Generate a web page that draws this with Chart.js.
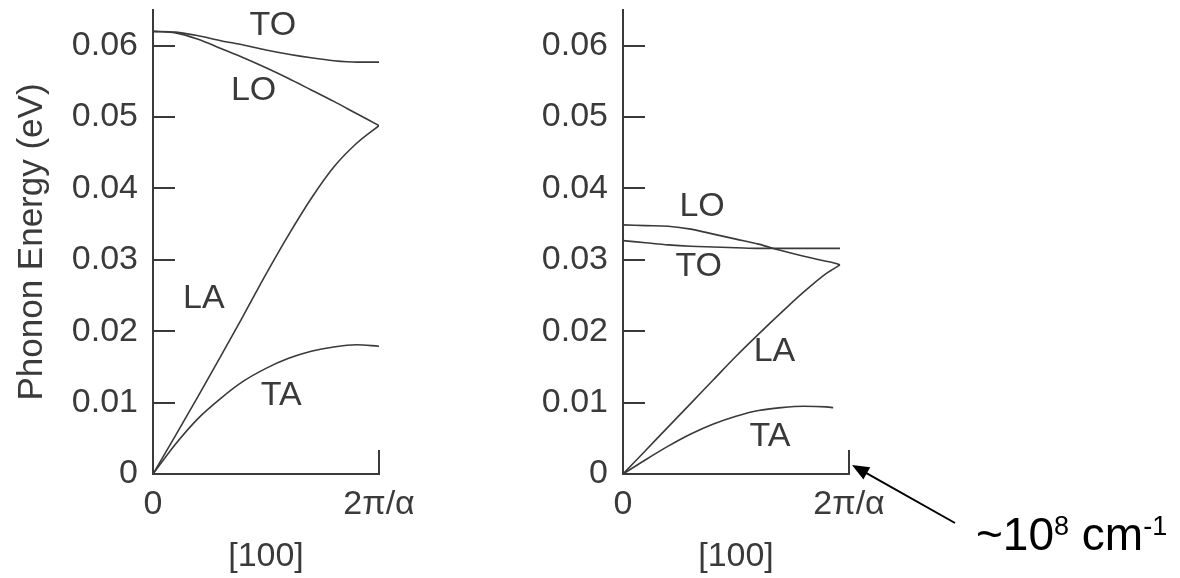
<!DOCTYPE html>
<html>
<head>
<meta charset="utf-8">
<script src="https://cdn.jsdelivr.net/npm/chart.js@4.4.0/dist/chart.umd.min.js"></script>
<style>
  html, body { margin: 0; padding: 0; background: #fff; }
  #wrap { position: relative; width: 1180px; height: 578px; overflow: hidden; }
  #wrap canvas { position: absolute; top: 0; }
</style>
</head>
<body>
<div id="wrap">
  <canvas id="leftChart" width="440" height="578" style="left:0px"></canvas>
  <canvas id="rightChart" width="710" height="578" style="left:470px"></canvas>
</div>
<script>
// wave vector along [100], as a fraction of 2π/α
const qLeft  = [0, 0.1, 0.2, 0.3, 0.4, 0.5, 0.6, 0.7, 0.8, 0.9, 1.0];
const toLeft = [0.0620, 0.0619, 0.0614, 0.0607, 0.0601, 0.0594, 0.0588, 0.0583, 0.0579, 0.0577, 0.0577];
const loLeft = [0.0620, 0.0618, 0.0609, 0.0596, 0.0583, 0.0569, 0.0554, 0.0538, 0.0522, 0.0505, 0.0488];
const laLeft = [0, 0.0054, 0.0109, 0.0165, 0.0222, 0.0280, 0.0335, 0.0386, 0.0430, 0.0463, 0.0488];
const taLeft = [0, 0.0042, 0.0078, 0.0106, 0.0130, 0.0148, 0.0162, 0.0172, 0.0178, 0.0181, 0.0179];

const qRight  = [0, 0.1, 0.2, 0.3, 0.4, 0.5, 0.6, 0.7, 0.8, 0.9, 0.93, 0.96];
const loRight = [0.0349, 0.0348, 0.0347, 0.0343, 0.0336, 0.0329, 0.0322, 0.0313, 0.0305, 0.0298, 0.0296, 0.0293];
const toRight = [0.0327, 0.0324, 0.0321, 0.0319, 0.0318, 0.0317, 0.0316, 0.0316, 0.0316, 0.0316, 0.0316, 0.0316];
const laRight = [0, 0.0033, 0.0066, 0.0099, 0.0132, 0.0165, 0.0196, 0.0226, 0.0255, 0.0281, 0.0287, 0.0293];
const taRight = [0, 0.0020, 0.0039, 0.0056, 0.0070, 0.0081, 0.0089, 0.0093, 0.0095, 0.0094, 0.0093, null];

const energyTicks = [0, 0.01, 0.02, 0.03, 0.04, 0.05, 0.06];
const qTicks = [0, 1];
const qTickLabels = ['0', '2π/α'];

// branch names, placed in data units
const leftNames = [
  { text: 'TO', q: 0.53, e: 0.0628 },
  { text: 'LO', q: 0.445, e: 0.0537 },
  { text: 'LA', q: 0.225, e: 0.0246 },
  { text: 'TA', q: 0.567, e: 0.0110 }
];
const rightNames = [
  { text: 'LO', q: 0.35, e: 0.0375 },
  { text: 'TO', q: 0.335, e: 0.0290 },
  { text: 'LA', q: 0.67, e: 0.0171 },
  { text: 'TA', q: 0.65, e: 0.0053 }
];

const INK = '#3a3a3a';
const FONT = '"Liberation Sans", Arial, Helvetica, sans-serif';

function points(q, e) {
  return q.map((v, i) => ({ x: v, y: e[i] })).filter(p => p.y !== null);
}

function branch(data) {
  return {
    data: data,
    borderColor: INK,
    borderWidth: 1.6,
    pointRadius: 0,
    fill: false,
    cubicInterpolationMode: 'monotone'
  };
}

// ticks drawn inward + branch names
const innerTicks = {
  id: 'innerTicks',
  afterDraw(chart, args, opts) {
    const { ctx, chartArea, scales: { x, y } } = chart;
    ctx.save();
    ctx.strokeStyle = INK;
    ctx.lineWidth = 2;
    ctx.beginPath();
    y.ticks.forEach(t => {
      if (t.value === 0) return;
      const py = Math.round(y.getPixelForValue(t.value));
      ctx.moveTo(chartArea.left, py);
      ctx.lineTo(chartArea.left + 22, py);
    });
    const px = Math.round(x.getPixelForValue(1));
    ctx.moveTo(px, chartArea.bottom);
    ctx.lineTo(px, chartArea.bottom - 24);
    ctx.stroke();

    ctx.fillStyle = INK;
    ctx.font = '34px ' + FONT;
    ctx.textAlign = 'center';
    ctx.textBaseline = 'middle';
    (opts.items || []).forEach(n => {
      ctx.fillText(n.text, x.getPixelForValue(n.q), y.getPixelForValue(n.e));
    });
    ctx.restore();
  }
};

// arrow + "~10^8 cm^-1" note pointing at the zone edge
const zoneNote = {
  id: 'zoneNote',
  afterDraw(chart) {
    const { ctx, chartArea, scales: { x, y } } = chart;
    const tipX = x.getPixelForValue(1) + 3;
    const tipY = y.getPixelForValue(0) - 9;
    const tailX = tipX + 103, tailY = tipY + 58;
    ctx.save();
    ctx.strokeStyle = '#000';
    ctx.fillStyle = '#000';
    ctx.lineWidth = 2;
    ctx.beginPath();
    ctx.moveTo(tailX, tailY);
    ctx.lineTo(tipX + 10, tipY + 5.6);
    ctx.stroke();
    const ang = Math.atan2(tipY - tailY, tipX - tailX);
    const L = 17, W = 7;
    ctx.beginPath();
    ctx.moveTo(tipX, tipY);
    ctx.lineTo(tipX - L * Math.cos(ang) + W * Math.sin(ang), tipY - L * Math.sin(ang) - W * Math.cos(ang));
    ctx.lineTo(tipX - L * Math.cos(ang) - W * Math.sin(ang), tipY - L * Math.sin(ang) + W * Math.cos(ang));
    ctx.closePath();
    ctx.fill();

    let tx = x.getPixelForValue(1) + 127;
    const base = chartArea.bottom + 76;
    ctx.textAlign = 'left';
    ctx.textBaseline = 'alphabetic';
    const big = '46px ' + FONT, small = '27px ' + FONT;
    const parts = [['~10', big, 0], ['8', small, -15], [' cm', big, 0], ['-1', small, -15]];
    parts.forEach(([s, f, dy]) => {
      ctx.font = f;
      ctx.fillText(s, tx, base + dy);
      tx += ctx.measureText(s).width;
    });
    ctx.restore();
  }
};

function makeChart(id, datasets, names, rightPad, withTitle, extra) {
  return new Chart(document.getElementById(id), {
    type: 'line',
    data: { datasets: datasets },
    plugins: [innerTicks].concat(extra),
    options: {
      responsive: false,
      animation: false,
      devicePixelRatio: 1,
      layout: { padding: { top: 10, right: rightPad, left: 0, bottom: 0 } },
      plugins: {
        legend: { display: false },
        tooltip: { enabled: false },
        innerTicks: { items: names }
      },
      scales: {
        x: {
          type: 'linear',
          min: 0,
          max: 1,
          afterBuildTicks: s => { s.ticks = qTicks.map(v => ({ value: v })); },
          afterFit: s => { s.height = 104; s.paddingLeft = 0; s.paddingRight = 0; },
          grid: { display: false, drawTicks: false },
          border: { display: true, color: INK, width: 2 },
          ticks: {
            color: INK,
            font: { family: FONT, size: 34 },
            padding: 10,
            maxRotation: 0,
            callback: (v) => qTickLabels[qTicks.indexOf(v)]
          },
          title: {
            display: true,
            text: '[100]',
            color: INK,
            font: { family: FONT, size: 34 },
            padding: { top: 0, bottom: 1 }
          }
        },
        y: {
          min: 0,
          max: 0.065,
          afterBuildTicks: s => { s.ticks = energyTicks.map(v => ({ value: v })); },
          afterFit: s => { s.width = 153; s.paddingTop = 0; s.paddingBottom = 0; },
          grid: { display: false, drawTicks: false },
          border: { display: true, color: INK, width: 2 },
          ticks: {
            color: INK,
            font: { family: FONT, size: 34 },
            padding: 15,
            callback: (v) => v === 0 ? '0' : v.toFixed(2)
          },
          title: {
            display: withTitle,
            text: 'Phonon Energy (eV)',
            color: INK,
            font: { family: FONT, size: 35 },
            padding: { top: 11, bottom: 0 }
          }
        }
      }
    }
  });
}

makeChart('leftChart', [
  branch(points(qLeft, toLeft)),
  branch(points(qLeft, loLeft)),
  branch(points(qLeft, laLeft)),
  branch(points(qLeft, taLeft))
], leftNames, 61, true, []);

makeChart('rightChart', [
  branch(points(qRight, loRight)),
  branch(points(qRight, toRight)),
  branch(points(qRight, laRight)),
  branch(points(qRight, taRight))
], rightNames, 331, false, [zoneNote]);
</script>
</body>
</html>
